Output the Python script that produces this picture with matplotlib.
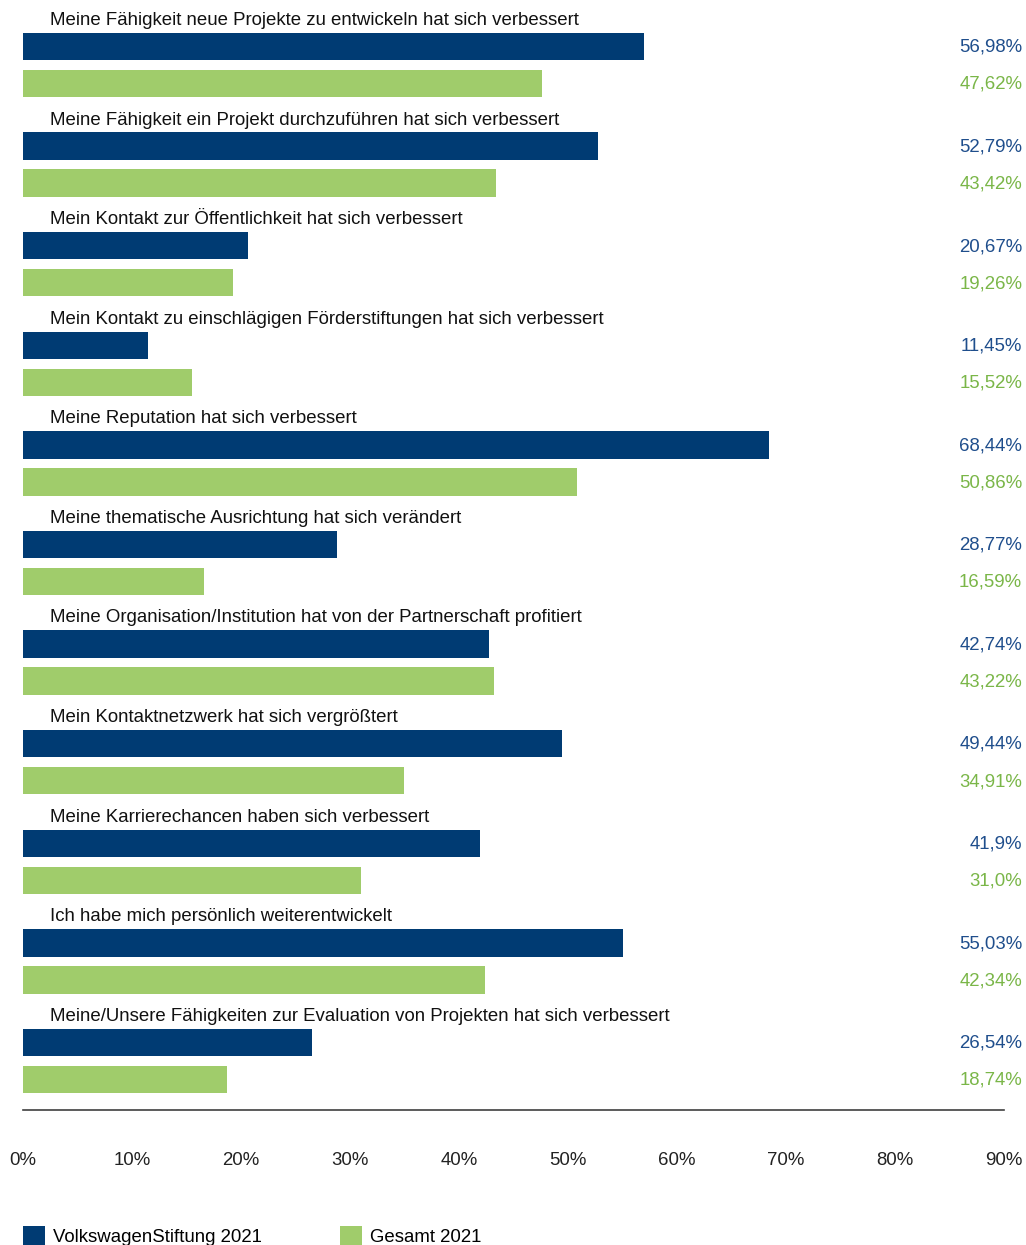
import matplotlib
matplotlib.use('Agg')
import matplotlib.pyplot as plt
from matplotlib.patches import Patch
from matplotlib.transforms import blended_transform_factory

categories = [
    'Meine Fähigkeit neue Projekte zu entwickeln hat sich verbessert',
    'Meine Fähigkeit ein Projekt durchzuführen hat sich verbessert',
    'Mein Kontakt zur Öffentlichkeit hat sich verbessert',
    'Mein Kontakt zu einschlägigen Förderstiftungen hat sich verbessert',
    'Meine Reputation hat sich verbessert',
    'Meine thematische Ausrichtung hat sich verändert',
    'Meine Organisation/Institution hat von der Partnerschaft profitiert',
    'Mein Kontaktnetzwerk hat sich vergrößtert',
    'Meine Karrierechancen haben sich verbessert',
    'Ich habe mich persönlich weiterentwickelt',
    'Meine/Unsere Fähigkeiten zur Evaluation von Projekten hat sich verbessert',
]
vw_values = [56.98, 52.79, 20.67, 11.45, 68.44, 28.77, 42.74, 49.44, 41.9, 55.03, 26.54]
total_values = [47.62, 43.42, 19.26, 15.52, 50.86, 16.59, 43.22, 34.91, 31.0, 42.34, 18.74]
vw_labels = ['56,98%', '52,79%', '20,67%', '11,45%', '68,44%', '28,77%',
             '42,74%', '49,44%', '41,9%', '55,03%', '26,54%']
total_labels = ['47,62%', '43,42%', '19,26%', '15,52%', '50,86%', '16,59%',
                '43,22%', '34,91%', '31,0%', '42,34%', '18,74%']
series_names = ['VolkswagenStiftung 2021', 'Gesamt 2021']
x_ticks = [0, 10, 20, 30, 40, 50, 60, 70, 80, 90]

BLUE = '#003B73'
GREEN = '#A0CC6B'
BLUE_TEXT = '#1F4E8C'
GREEN_TEXT = '#7AB648'
FS = 13.4

plt.rcParams['font.family'] = ['Liberation Sans', 'DejaVu Sans']

W, H = 1026, 1245
fig = plt.figure(figsize=(W / 100, H / 100), dpi=100)
ax = fig.add_axes([23 / W, 1 - 1110 / H, 981 / W, 1110 / H])

n = len(categories)
blue_y = [i for i in range(n)]
green_y = [i + 0.372 for i in range(n)]

ax.barh(blue_y, vw_values, height=0.275, color=BLUE)
ax.barh(green_y, total_values, height=0.275, color=GREEN)

trans = blended_transform_factory(ax.transAxes, ax.transData)
for i in range(n):
    ax.text((50 - 23) / 981, i - 0.262, categories[i], transform=trans,
            ha='left', va='center', fontsize=FS, color='#111111')
    ax.text(1.0186, blue_y[i] + 0.008, vw_labels[i], transform=trans,
            ha='right', va='center', fontsize=FS, color=BLUE_TEXT)
    ax.text(1.0186, green_y[i] + 0.008, total_labels[i], transform=trans,
            ha='right', va='center', fontsize=FS, color=GREEN_TEXT)

ax.set_xlim(0, 90)
ax.set_ylim(n - 1 + 0.678, -0.467)
ax.set_xticks(x_ticks)
ax.set_xticklabels([f'{t}%' for t in x_ticks], fontsize=FS, color='#222222')
ax.tick_params(axis='x', length=0, pad=30)
ax.set_yticks([])
for side in ['top', 'right', 'left']:
    ax.spines[side].set_visible(False)
ax.spines['bottom'].set_color('#404040')
ax.spines['bottom'].set_linewidth(1.2)

handles = [Patch(facecolor=BLUE, label=series_names[0]),
           Patch(facecolor=GREEN, label=series_names[1])]
fig.legend(handles=handles, loc='center left', bbox_to_anchor=(23 / W, 1 - 1236 / H),
           ncol=2, frameon=False, fontsize=FS, handlelength=1.18, handleheight=1.18,
           handletextpad=0.43, columnspacing=4.2, borderpad=0, borderaxespad=0)

plt.savefig('out.png', dpi=100, facecolor='white')
